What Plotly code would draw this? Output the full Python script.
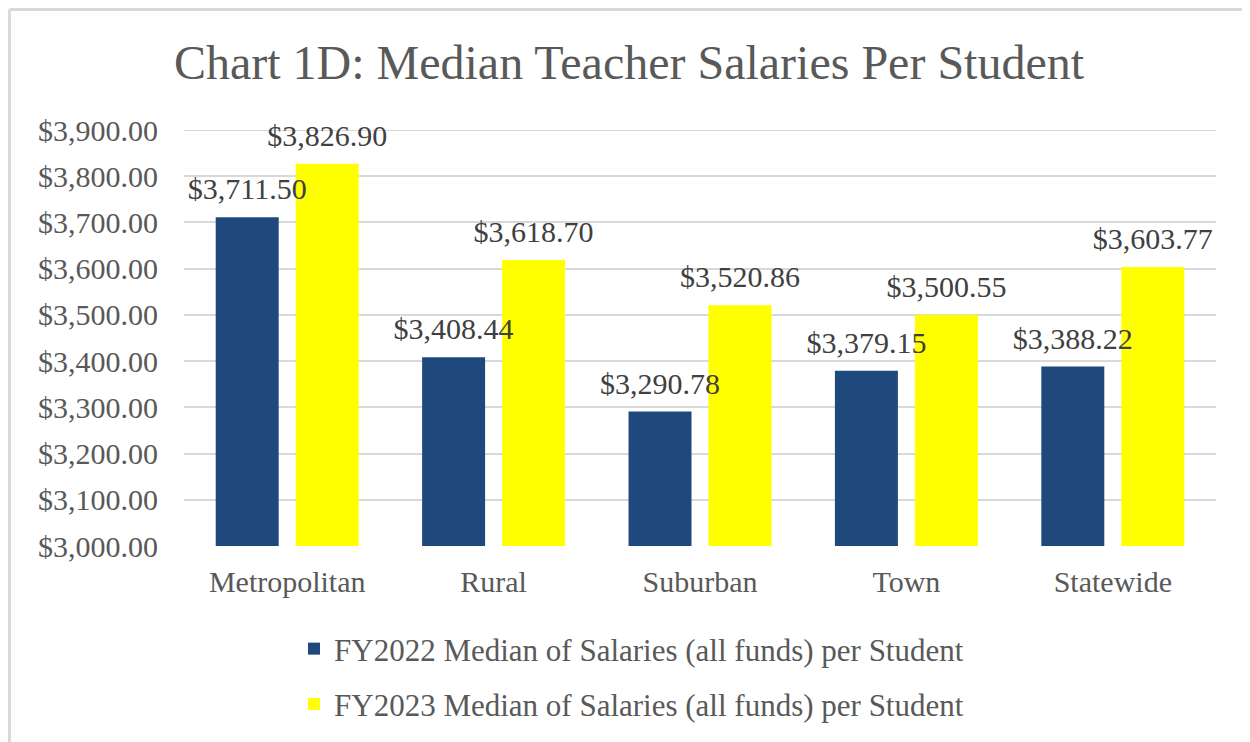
import plotly.graph_objects as go

categories = ["Metropolitan", "Rural", "Suburban", "Town", "Statewide"]
fy2022 = [3711.50, 3408.44, 3290.78, 3379.15, 3388.22]
fy2023 = [3826.90, 3618.70, 3520.86, 3500.55, 3603.77]
series_names = ["FY2022 Median of Salaries (all funds) per Student",
                "FY2023 Median of Salaries (all funds) per Student"]
colors = ["#1F497D", "#FFFF00"]
y_min, y_max, y_step = 3000, 3900, 100

FONT = "Liberation Serif"
W, H = 1242, 734
L, R, T, B = 176, 34, 122, 196
PW, PH = W - L - R, H - T - B

series = [fy2022, fy2023]
fig = go.Figure()
# bars
for i, (name, vals) in enumerate(zip(series_names, series)):
    fig.add_trace(go.Bar(
        x=categories, y=vals, name=name, offsetgroup=f"s{i}",
        marker=dict(color=colors[i], line=dict(width=0)),
        legendgroup=f"g{i}",
    ))
# data labels drawn on top of all bars (transparent duplicate bars)
for i, (name, vals) in enumerate(zip(series_names, series)):
    fig.add_trace(go.Bar(
        x=categories, y=vals, name=name, offsetgroup=f"s{i}",
        marker=dict(color="rgba(0,0,0,0)", line=dict(width=0)),
        texttemplate="<span style='font-size:30px'>$%{y:,.2f}</span><br> ",
        textposition="outside", constraintext="none",
        textfont=dict(family=FONT, size=10, color="#404040"),
        cliponaxis=False, showlegend=False, hoverinfo="skip",
        legendgroup=f"g{i}",
    ))

fig.update_layout(
    width=W, height=H,
    paper_bgcolor="white", plot_bgcolor="white",
    margin=dict(l=L, r=R, t=T, b=B, autoexpand=False),
    title=dict(text="Chart 1D: Median Teacher Salaries Per Student",
               x=0.5, xanchor="center", y=1 - 54 / H, yanchor="middle",
               font=dict(family=FONT, size=48, color="#595959")),
    font=dict(family=FONT, color="#595959"),
    barmode="group", bargap=0.225, bargroupgap=0.2125,
    showlegend=True,
    legend=dict(orientation="v", x=(286 - L) / PW, xanchor="left",
                y=-(614 - (T + PH)) / PH, yanchor="top",
                font=dict(family=FONT, size=31, color="#595959"),
                tracegroupgap=12, bgcolor="rgba(0,0,0,0)"),
    xaxis=dict(showgrid=False, showline=False, ticks="",
               ticklabelstandoff=15, automargin=False,
               tickfont=dict(family=FONT, size=30, color="#595959")),
    yaxis=dict(range=[y_min, y_max], dtick=y_step, tick0=y_min,
               tickprefix="$", tickformat=",.2f",
               showgrid=True, gridcolor="#D9D9D9", gridwidth=2,
               zeroline=False, showline=False, ticks="",
               ticklabelstandoff=25, automargin=False,
               tickfont=dict(family=FONT, size=30, color="#595959")),
)
# top gridline at the edge of the range
fig.add_shape(type="line", xref="paper", yref="y",
              x0=0, x1=1, y0=y_max, y1=y_max,
              line=dict(color="#D9D9D9", width=2), layer="below")
# chart frame (left and top edges)
fig.add_shape(type="line", xref="paper", yref="paper",
              x0=-(L - 1.5) / PW, x1=-(L - 1.5) / PW, y0=-B / PH, y1=1 + (T - 1.5) / PH,
              line=dict(color="#D9D9D9", width=3), layer="below")
fig.add_shape(type="line", xref="paper", yref="paper",
              x0=-(L - 1.5) / PW, x1=1 + R / PW, y0=1 + (T - 1.5) / PH, y1=1 + (T - 1.5) / PH,
              line=dict(color="#D9D9D9", width=3), layer="below")

fig.write_html("out.html")
